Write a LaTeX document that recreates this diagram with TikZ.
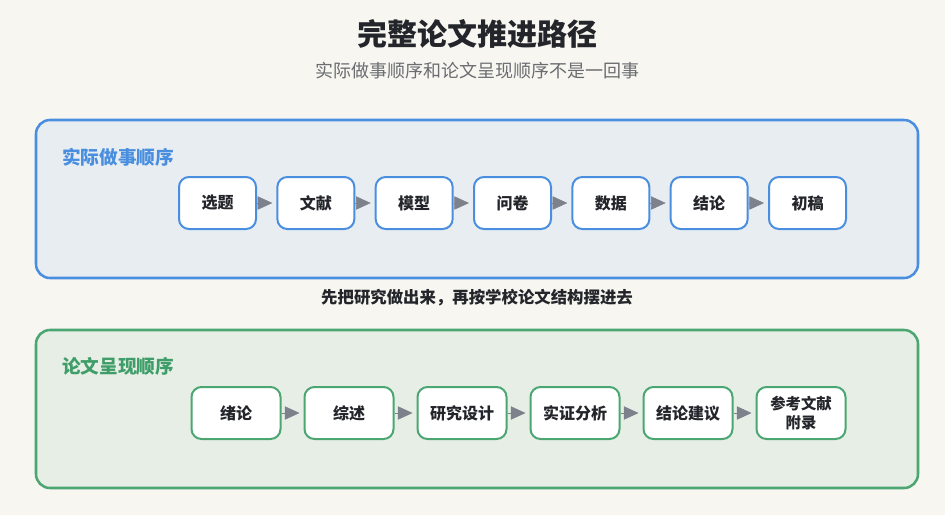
\documentclass[tikz,border=0pt]{standalone}
\usepackage{fontspec}
\setmainfont{Noto Sans CJK SC}
\usetikzlibrary{arrows.meta,positioning}
\definecolor{Paper}{HTML}{F7F6F1}
\definecolor{Ink}{HTML}{23252A}
\definecolor{Muted}{HTML}{6A6C70}
\definecolor{Sky}{HTML}{4A8FDF}
\definecolor{SkyFill}{HTML}{E8EDF2}
\definecolor{Leaf}{HTML}{4CA672}
\definecolor{LeafText}{HTML}{3E9D68}
\definecolor{LeafFill}{HTML}{E6EEE5}
\definecolor{Pointer}{HTML}{7C818C}

\begin{document}
\begin{tikzpicture}[x=0.75pt,y=-0.75pt,
    panel/.style={line width=1.9pt,rounded corners=10.5pt},
    stepbox/.style={draw,fill=white,line width=1.5pt,rounded corners=7.5pt,
      minimum height=39pt,inner sep=2pt,font=\bfseries\fontsize{12}{14}\selectfont,
      text=Ink,align=center},
    actbox/.style={stepbox,draw=Sky,minimum width=57.75pt},
    docbox/.style={stepbox,draw=Leaf,minimum width=66.75pt},
    flow/.style={Pointer,line width=0.4pt,shorten >=3pt,
      -{Triangle[length=11pt,width=10pt]}}]
        \fill[Paper] (0,0) rectangle (945,515);
        \useasboundingbox (0,0) rectangle (945,515);
        % heading
        \node[font=\bfseries\fontsize{22.5}{26}\selectfont,text=Ink] (title) at (477,34) {完整论文推进路径};
        \node[font=\fontsize{13.5}{16}\selectfont,text=Muted] (subtitle) at (477,71) {实际做事顺序和论文呈现顺序不是一回事};
        % actual order
        \draw[panel,draw=Sky,fill=SkyFill] (36,120) rectangle (918,278);
        \node[anchor=west,font=\bfseries\fontsize{14}{16}\selectfont,text=Sky,inner sep=0pt] (actlabel) at (62,157) {实际做事顺序};
        \node[actbox] (xuanti) at (217.5,203) {选题};
        \node[actbox,right=14.5pt of xuanti] (wenxian) {文献};
        \node[actbox,right=14.5pt of wenxian] (moxing) {模型};
        \node[actbox,right=14.5pt of moxing] (wenjuan) {问卷};
        \node[actbox,right=14.5pt of wenjuan] (shuju) {数据};
        \node[actbox,right=14.5pt of shuju] (jielun) {结论};
        \node[actbox,right=14.5pt of jielun] (chugao) {初稿};
        \draw[flow] (xuanti) -- (wenxian);
        \draw[flow] (wenxian) -- (moxing);
        \draw[flow] (moxing) -- (wenjuan);
        \draw[flow] (wenjuan) -- (shuju);
        \draw[flow] (shuju) -- (jielun);
        \draw[flow] (jielun) -- (chugao);
        % bridge
        \node[font=\bfseries\fontsize{12.3}{14}\selectfont,text=Ink] (bridge) at (477,298) {先把研究做出来，再按学校论文结构摆进去};
        % thesis order
        \draw[panel,draw=Leaf,fill=LeafFill] (36,330) rectangle (918,488);
        \node[anchor=west,font=\bfseries\fontsize{14}{16}\selectfont,text=LeafText,inner sep=0pt] (doclabel) at (62,366) {论文呈现顺序};
        \node[docbox] (xulun) at (236,413) {绪论};
        \node[docbox,right=16.5pt of xulun] (zongshu) {综述};
        \node[docbox,right=16.5pt of zongshu] (sheji) {研究设计};
        \node[docbox,right=16.5pt of sheji] (fenxi) {实证分析};
        \node[docbox,right=16.5pt of fenxi] (jianyi) {结论建议};
        \node[docbox,right=16.5pt of jianyi,font=\bfseries\fontsize{11.5}{14}\selectfont] (fulu) {参考文献\\附录};
        \draw[flow] (xulun) -- (zongshu);
        \draw[flow] (zongshu) -- (sheji);
        \draw[flow] (sheji) -- (fenxi);
        \draw[flow] (fenxi) -- (jianyi);
        \draw[flow] (jianyi) -- (fulu);
      \end{tikzpicture}
\end{document}
